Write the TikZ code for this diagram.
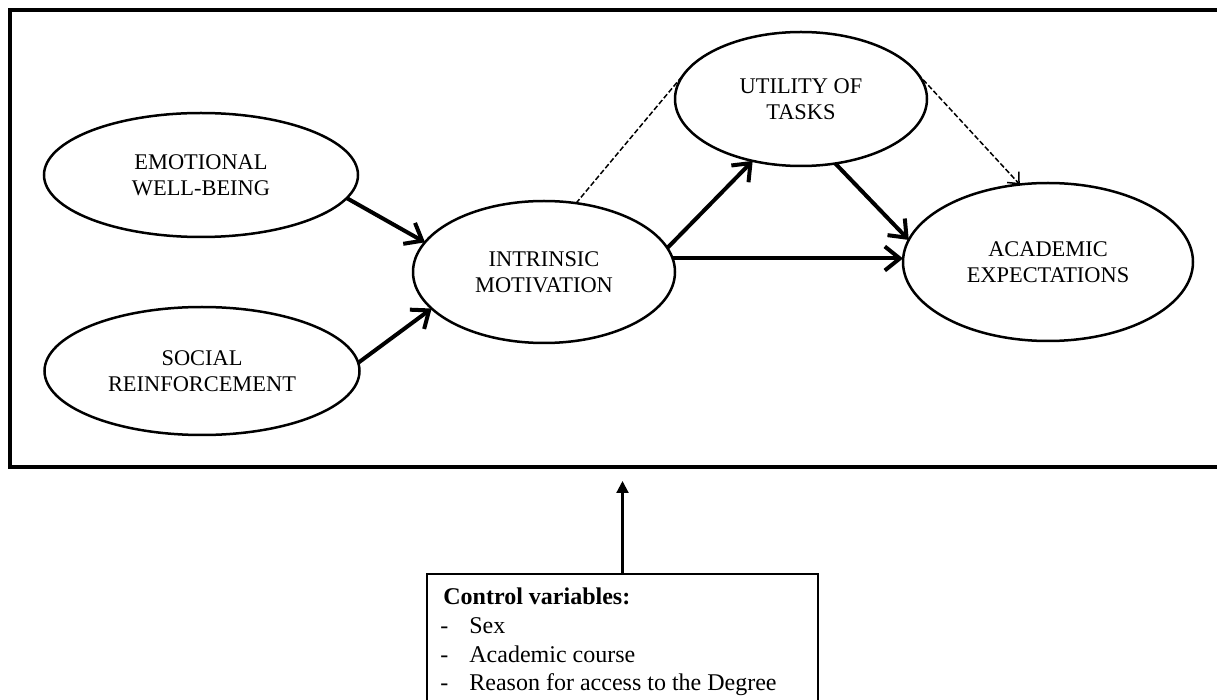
\documentclass[tikz,border=0pt]{standalone}
\usepackage{fontspec}
\setmainfont{Liberation Serif}
\usetikzlibrary{arrows.meta,shapes.geometric}
\begin{document}
\begin{tikzpicture}[x=0.5pt,y=-0.5pt,
  latent/.style={ellipse,draw,line width=1.25pt,inner sep=0pt,outer sep=0pt,align=center,
    font=\fontsize{11.2}{13.2}\selectfont},
  pathar/.style={line width=2pt,-{Straight Barb[length=7.5pt,width=12pt]}},
  dashline/.style={line width=0.75pt,dash pattern=on 2.6pt off 1.2pt},
  dashar/.style={dashline,-{Straight Barb[length=4.5pt,width=8pt]}},
  ctrlar/.style={line width=1.1pt,-{Triangle[length=6pt,width=6pt]}},
  ctext/.style={inner sep=0pt,anchor=base west,font=\fontsize{12}{14.4}\selectfont}
]
\useasboundingbox (0,0) rectangle (1217,700);
\fill[white] (0,0) rectangle (1217,700);
\clip (0,0) rectangle (1217,700);

\node[draw,line width=2pt,inner sep=0pt,outer sep=0pt,anchor=north west,
  minimum width=610pt,minimum height=228.5pt] (frame) at (10,10) {};

\node[latent,minimum width=157pt,minimum height=62pt] (ewb) at (201,175) {EMOTIONAL\\WELL-BEING};
\node[latent,minimum width=157.5pt,minimum height=64pt] (sr) at (202,371) {SOCIAL\\REINFORCEMENT};
\node[latent,minimum width=131pt,minimum height=71pt] (im) at (544,272) {INTRINSIC\\MOTIVATION};
\node[latent,minimum width=126pt,minimum height=67pt] (ut) at (801,99) {UTILITY OF\\TASKS};
\node[latent,minimum width=145pt,minimum height=79pt] (ae) at (1048,262) {ACADEMIC\\EXPECTATIONS};

\draw[pathar] (ewb.-9) -- (im.166);
\draw[pathar] (sr.3) -- (im.198);
\draw[pathar] (im.11) -- (ut.232);
\draw[pathar] (im.6) -- (im.6 -| ae.west);
\draw[pathar] (ut.298) -- (ae.171);
\draw[dashline] (im.65) -- (ut.167);
\draw[dashar] (ut.12) -- (ae.110);

\node[draw,line width=0.8pt,inner sep=0pt,outer sep=0pt,anchor=north west,
  minimum width=195.5pt,minimum height=80pt] (ctrl) at (427,574) {};
\draw[ctrlar,shorten >=7pt] (ctrl.north) -- (ctrl.north |- frame.south);

\node[ctext] (c0) at (443,604) {\textbf{Control variables:}};
\node[ctext] (d1) at (440,633) {-};
\node[ctext] (c1) at (469,633) {Sex};
\node[ctext] (d2) at (440,662) {-};
\node[ctext] (c2) at (469,662) {Academic course};
\node[ctext] (d3) at (440,690) {-};
\node[ctext] (c3) at (469,690) {Reason for access to the Degree};
\end{tikzpicture}
\end{document}
